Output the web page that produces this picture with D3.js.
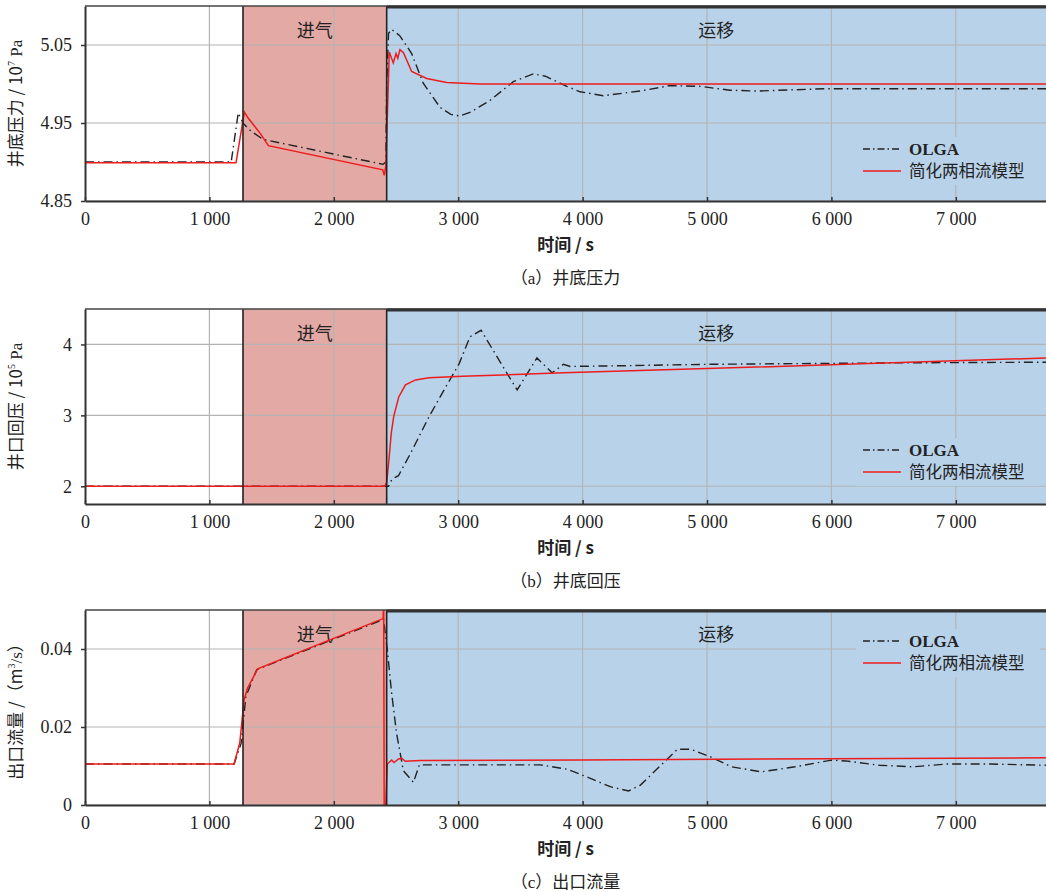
<!DOCTYPE html>
<html>
<head>
<meta charset="utf-8">
<script src="https://cdn.jsdelivr.net/npm/d3@7"></script>
<style>
body{margin:0;background:#fff}
text{font-family:"Liberation Serif","Noto Sans CJK SC",serif;fill:#222}
.cjk{font-family:"Noto Sans CJK SC",sans-serif}
.tick text{font-family:"Liberation Serif",serif}
</style>
</head>
<body>
<div id="chart"></div>
<script>
var W=1046,H=892;

// time axis (s)
var xMax=7725;
var xTicks=[0,1000,2000,3000,4000,5000,6000,7000];
var tInject=1270, tMigrate=2425;
var phaseNames=["进气","运移"];
var legendNames=["OLGA","简化两相流模型"];

// (a) bottomhole pressure, 10^7 Pa
var pressTicks=[4.85,4.95,5.05];
var pressOlga=[[0,4.900],[1175,4.900],[1232,4.963],[1270,4.950],[1330,4.940],[1431,4.929],[2397,4.897],[2418,4.900],
  [2425,5.000],[2440,5.065],[2465,5.070],[2530,5.062],[2626,5.039],[2719,5.001],[2854,4.970],[2940,4.961],[3015,4.959],
  [3100,4.964],[3256,4.979],[3443,5.003],[3603,5.013],[3700,5.010],[3873,4.997],[3980,4.990],[4166,4.985],[4463,4.991],
  [4703,4.998],[4944,4.997],[5185,4.992],[5402,4.991],[5965,4.994],[7725,4.994]];
var pressModel=[[0,4.899],[1214,4.899],[1281,4.964],[1313,4.956],[1407,4.937],[1474,4.921],[2393,4.890],[2406,4.883],
  [2418,4.895],[2446,5.041],[2478,5.027],[2500,5.039],[2514,5.033],[2532,5.044],[2560,5.040],[2626,5.016],[2747,5.007],
  [2907,5.002],[3175,5.000],[7725,5.000]];

// (b) wellhead back pressure, 10^5 Pa
var backTicks=[2,3,4];
var backOlga=[[0,2.0],[2440,2.0],[2468,2.10],[2520,2.15],[2616,2.46],[2765,2.98],[2895,3.385],[3008,3.73],[3095,4.11],
  [3184,4.20],[3400,3.57],[3474,3.36],[3633,3.81],[3755,3.60],[3846,3.72],[3900,3.69],[4332,3.70],[5000,3.72],[6500,3.74],[7725,3.75]];
var backModel=[[0,2.0],[2408,2.0],[2425,2.05],[2443,2.37],[2462,2.75],[2481,2.98],[2522,3.26],[2576,3.43],[2657,3.50],
  [2765,3.53],[3035,3.55],[3846,3.60],[5000,3.66],[6300,3.73],[7725,3.81]];

// (c) outlet flow rate, m3/s
var flowTicks=[0,0.02,0.04];
var flowOlga=[[0,0.0105],[1198,0.0105],[1255,0.0158],[1293,0.0278],[1380,0.0347],[2400,0.0476],[2430,0.0398],[2465,0.0286],
  [2505,0.0183],[2559,0.0088],[2640,0.0058],[2688,0.0103],[3658,0.0103],[3872,0.0092],[3980,0.0079],[4222,0.0047],[4370,0.0036],
  [4465,0.0051],[4762,0.0143],[4870,0.0143],[5032,0.0123],[5195,0.0098],[5438,0.0085],[5708,0.0098],[6000,0.0115],[6114,0.0113],
  [6384,0.0102],[6654,0.0098],[6924,0.0105],[7276,0.0105],[7725,0.0102]];
var flowModel=[[0,0.0105],[1198,0.0105],[1244,0.0159],[1279,0.027],[1307,0.030],[1388,0.0349],[2396,0.0478],[2401,0.052],
  [2405,0],[2418,0],[2430,0.0105],[2465,0.01155],[2484,0.0109],[2520,0.0118],[2547,0.0120],[2574,0.0112],[2694,0.0114],
  [3980,0.01155],[7725,0.0121]];

var panels=[
  {top:6, dom:[4.85,5.10], ticks:pressTicks, fmt:d3.format(".2f"), olga:pressOlga, model:pressModel,
   ylab:["井底压力 / 10","7"," Pa"], cap:["（","a","）井底压力"], legY:143},
  {top:309, dom:[1.75,4.5], ticks:backTicks, fmt:d3.format("d"), olga:backOlga, model:backModel,
   ylab:["井口回压 / 10","5"," Pa"], cap:["（","b","）井底回压"], legY:141},
  {top:610, dom:[0,0.05], ticks:flowTicks, fmt:function(d){return d===0?"0":d3.format(".2f")(d);}, olga:flowOlga, model:flowModel,
   ylab:["出口流量 /（m","3","/s）"], cap:["（","c","）出口流量"], legY:31}
];

var left=85, right=1046, ph=195;
var pink="#e3a9a4", blue="#b8d2ea";

var svg=d3.select("#chart").append("svg").attr("width",W).attr("height",H).style("background","#fff");

var x=d3.scaleLinear().domain([0,xMax]).range([left,right]);
var kfmt=function(d){return d3.format(",")(d).replace(",","\u2005");};

panels.forEach(function(p,i){
  var bot=p.top+ph;
  var y=d3.scaleLinear().domain(p.dom).range([bot,p.top]);
  var g=svg.append("g");
  g.append("clipPath").attr("id","clip"+i).append("rect")
    .attr("x",left).attr("y",p.top).attr("width",right-left).attr("height",ph);

  // phase backgrounds
  g.append("rect").attr("x",x(tInject)).attr("y",p.top).attr("width",x(tMigrate)-x(tInject)).attr("height",ph).attr("fill",pink);
  g.append("rect").attr("x",x(tMigrate)).attr("y",p.top).attr("width",right-x(tMigrate)).attr("height",ph).attr("fill",blue);

  // grid
  g.selectAll(".gx").data(xTicks.slice(1)).enter().append("line")
    .attr("x1",function(d){return x(d);}).attr("x2",function(d){return x(d);})
    .attr("y1",p.top).attr("y2",bot).attr("stroke","#b4b4b4").attr("stroke-width",1.2);
  g.selectAll(".gy").data(p.ticks).enter().append("line")
    .attr("y1",function(d){return y(d);}).attr("y2",function(d){return y(d);})
    .attr("x1",left).attr("x2",right).attr("stroke","#b4b4b4").attr("stroke-width",1.2);

  // phase labels
  g.append("text").attr("class","cjk").attr("x",x((tInject+tMigrate)/2)).attr("y",p.top+31)
    .attr("text-anchor","middle").attr("font-size",18).text(phaseNames[0]);
  g.append("text").attr("class","cjk").attr("x",x((tMigrate+xMax)/2)).attr("y",p.top+31)
    .attr("text-anchor","middle").attr("font-size",18).text(phaseNames[1]);

  // legend
  var lg=g.append("g");
  lg.append("rect").attr("x",856).attr("y",p.top+p.legY-12).attr("width",184).attr("height",48).attr("fill",blue);
  lg.append("line").attr("x1",863).attr("x2",901).attr("y1",p.top+p.legY).attr("y2",p.top+p.legY)
    .attr("stroke","#222").attr("stroke-width",1.4).attr("stroke-dasharray","7,3,1.5,3");
  lg.append("line").attr("x1",863).attr("x2",901).attr("y1",p.top+p.legY+22).attr("y2",p.top+p.legY+22)
    .attr("stroke","#ee1c1c").attr("stroke-width",1.5);
  lg.append("text").attr("x",909).attr("y",p.top+p.legY+6).attr("font-size",17).attr("font-weight","bold").text(legendNames[0]);
  lg.append("text").attr("class","cjk").attr("x",909).attr("y",p.top+p.legY+28).attr("font-size",16.5).text(legendNames[1]);

  // curves
  var line=d3.line().x(function(d){return x(d[0]);}).y(function(d){return y(d[1]);});
  var cg=g.append("g").attr("clip-path","url(#clip"+i+")");
  cg.append("path").datum(p.olga).attr("d",line).attr("fill","none")
    .attr("stroke","#222").attr("stroke-width",1.4).attr("stroke-dasharray","9,4,1.5,4");
  cg.append("path").datum(p.model).attr("d",line).attr("fill","none")
    .attr("stroke","#ee1c1c").attr("stroke-width",1.5);

  // phase boundaries and frame
  [tInject,tMigrate].forEach(function(t){
    g.append("line").attr("x1",x(t)).attr("x2",x(t)).attr("y1",p.top).attr("y2",bot).attr("stroke","#222").attr("stroke-width",1.6);
  });
  g.append("line").attr("x1",left).attr("x2",right).attr("y1",p.top).attr("y2",p.top).attr("stroke","#444").attr("stroke-width",1.5);
  g.append("line").attr("x1",x(tMigrate)).attr("x2",right).attr("y1",p.top+1).attr("y2",p.top+1).attr("stroke","#333").attr("stroke-width",3);

  // axes
  var xa=g.append("g").attr("transform","translate(0,"+bot+")")
    .call(d3.axisBottom(x).tickValues(xTicks).tickSizeInner(-4).tickSizeOuter(0).tickPadding(11).tickFormat(kfmt));
  xa.attr("font-family",null);
  xa.select(".domain").attr("stroke","#333").attr("stroke-width",2);
  xa.selectAll(".tick line").attr("stroke","#333").attr("stroke-width",1.5);
  xa.selectAll(".tick text").attr("font-size",18).attr("fill","#222").style("font-family","'Liberation Serif', serif");
  var ya=g.append("g").attr("transform","translate("+left+",0)")
    .call(d3.axisLeft(y).tickValues(p.ticks).tickSizeInner(4).tickSizeOuter(0).tickPadding(9).tickFormat(p.fmt));
  ya.attr("font-family",null);
  ya.select(".domain").attr("stroke","#333").attr("stroke-width",2);
  ya.selectAll(".tick line").attr("stroke","#333").attr("stroke-width",1.5);
  ya.selectAll(".tick text").attr("font-size",18).attr("fill","#222").style("font-family","'Liberation Serif', serif");

  // axis titles
  var yl=g.append("text").attr("transform","translate(22,"+(p.top+ph/2)+") rotate(-90)")
    .attr("text-anchor","middle").attr("font-size",17);
  yl.append("tspan").attr("class","cjk").text(p.ylab[0]);
  yl.append("tspan").attr("dy",-7).attr("font-size",10).text(p.ylab[1]);
  yl.append("tspan").attr("dy",7).text(p.ylab[2]);
  g.append("text").attr("class","cjk").attr("x",(left+right)/2).attr("y",bot+50)
    .attr("text-anchor","middle").attr("font-size",17).attr("font-weight","bold").text("时间 / s");
  var cp=g.append("text").attr("x",(left+right)/2).attr("y",bot+83)
    .attr("text-anchor","middle").attr("font-size",17);
  cp.append("tspan").attr("class","cjk").text(p.cap[0]);
  cp.append("tspan").text(p.cap[1]);
  cp.append("tspan").attr("class","cjk").text(p.cap[2]);
});
</script>
</body>
</html>
